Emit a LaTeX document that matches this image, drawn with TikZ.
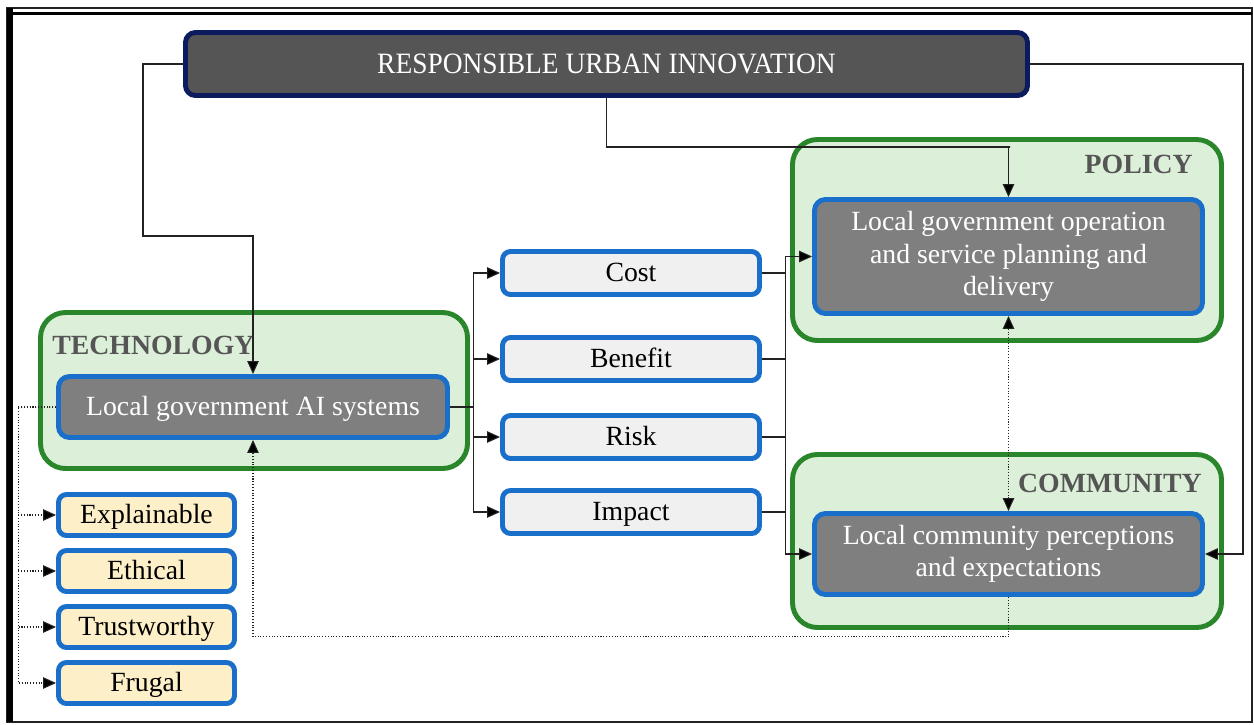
\documentclass[tikz,border=0pt]{standalone}
\usepackage{fontspec}
\usepackage{graphicx}
\setmainfont{Liberation Serif}
\usetikzlibrary{arrows.meta,calc}
\definecolor{grpgreen}{HTML}{2A862A}
\definecolor{grpfill}{HTML}{DCEFD8}
\definecolor{boxblue}{HTML}{1A6FCB}
\definecolor{innergray}{HTML}{7F7F7F}
\definecolor{titlefill}{HTML}{555555}
\definecolor{titleborder}{HTML}{0C1B5E}
\definecolor{lightbox}{HTML}{F0F0F0}
\definecolor{yellowbox}{HTML}{FDF0C9}
\definecolor{labelgray}{HTML}{555555}
\definecolor{linegray}{HTML}{222222}
\tikzset{
  x=0.02cm, y=-0.02cm,
  txt/.style={font=\fontsize{15.8}{18.5}\selectfont},
  oneline/.style={text height=11.4pt, text depth=1.5pt},
  grpbox/.style={draw=grpgreen, fill=grpfill, rounded corners=0.5cm, line width=2.8pt, inner sep=0pt},
  innerbox/.style={draw=boxblue, fill=innergray, line width=2.8pt, rounded corners=0.22cm, text=white, align=center, inner sep=0pt, txt},
  factorbox/.style={draw=boxblue, fill=lightbox, line width=2.8pt, rounded corners=0.16cm, inner sep=0pt, minimum width=257*0.02cm, minimum height=43*0.02cm, oneline, txt},
  qualbox/.style={draw=boxblue, fill=yellowbox, line width=2.8pt, rounded corners=0.16cm, inner sep=0pt, minimum width=176*0.02cm, minimum height=41*0.02cm, oneline, txt},
  grplabel/.style={text=labelgray, font=\fontsize{15.8}{18.5}\selectfont\bfseries, inner sep=0pt},
  tip/.style={-{Triangle[length=0.26cm, width=0.23cm, fill=black]}},
  conn/.style={draw=linegray, line width=0.6pt},
  arr/.style={conn, tip},
  dotconn/.style={draw=linegray, line width=0.6pt, densely dotted},
  dotarr/.style={dotconn, tip},
  dotdarr/.style={dotconn, {Triangle[length=0.26cm, width=0.23cm, fill=black]}-{Triangle[length=0.26cm, width=0.23cm, fill=black]}},
}
\begin{document}
\begin{tikzpicture}
\useasboundingbox (0,0) rectangle (1254,724);
% frame
\draw[line width=0.6pt, draw=linegray] (7,8) rectangle (1252,722);
\draw[line width=2.2pt] (7,13.5) -- (1252,13.5);
\draw[line width=3.4pt] (10,8) -- (10,722);

% title
\node[draw=titleborder, fill=titlefill, line width=2.8pt, rounded corners=0.2cm,
      minimum width=842*0.02cm, minimum height=63*0.02cm, inner sep=0pt,
      text height=12.3pt, text depth=1.5pt,
      text=white, font=\fontsize{16.8}{19}\selectfont] (title) at (606.5,64)
      {\scalebox{0.93}[1]{RESPONSIBLE URBAN INNOVATION}};

% groups
\node[grpbox, minimum width=427*0.02cm, minimum height=156*0.02cm] (tech) at (254,390.5) {};
\node[grpbox, minimum width=429*0.02cm, minimum height=201*0.02cm] (policy) at (1007,240) {};
\node[grpbox, minimum width=429*0.02cm, minimum height=173*0.02cm] (comm) at (1007,541) {};

\node[grplabel, anchor=west] (techlbl) at (52,345) {TECHNOLOGY};
\node[grplabel, anchor=east] (pollbl) at (1193,164) {POLICY};
\node[grplabel, anchor=east] (commlbl) at (1202,483) {COMMUNITY};

% inner boxes
\node[innerbox, text height=10.6pt, text depth=1.5pt, minimum width=389*0.02cm, minimum height=61*0.02cm] (ai) at (253,407) {Local government AI systems};
\node[innerbox, minimum width=388*0.02cm, minimum height=114*0.02cm] (pin) at (1008.5,256.5)
  {Local government operation\\and service planning and\\delivery};
\node[innerbox, minimum width=388*0.02cm, minimum height=81*0.02cm] (cin) at (1008.5,554)
  {Local community perceptions\\and expectations};

% factors
\node[factorbox] (cost) at (631,273) {Cost};
\node[factorbox] (benefit) at (631,359) {Benefit};
\node[factorbox] (risk) at (631,437) {Risk};
\node[factorbox] (impact) at (631,512) {Impact};

% qualities
\node[qualbox] (expl) at (146.5,515) {Explainable};
\node[qualbox] (eth) at (146.5,571) {Ethical};
\node[qualbox] (trust) at (146.5,627) {Trustworthy};
\node[qualbox] (frug) at (146.5,683) {Frugal};

% title connectors
\draw[arr] (title.west) -| (143,236) -| (ai.north);
\draw[arr] (title.south) |- (1010,147) -| (pin.north);
\draw[arr] (title.east) -| ($(cin.east)+(38,0)$) -- (cin.east);

% AI to factors
\foreach \f in {cost,benefit,risk,impact}{
  \draw[arr] (ai.east) -- ++(24,0) |- (\f.west);
}
% factors to policy / community
\draw[arr] (cost.east) -- ++(24,0) |- (pin.west);
\draw[arr] (impact.east) -- ++(24,0) |- (cin.west);
\draw[conn] (benefit.east) -- ++(24,0);
\draw[conn] (risk.east) -- ++(24,0);
\draw[conn] ($(cost.east)+(24,0)$) -- ($(impact.east)+(24,0)$);

% AI to qualities (dotted)
\foreach \q in {expl,eth,trust,frug}{
  \draw[dotarr] (ai.west) -- ++(-38,0) |- (\q.west);
}
% community back to AI (dotted)
\draw[dotarr] (cin.south) -- ++(0,40) -| (ai.south);
% policy <-> community (dotted)
\draw[dotdarr] (pin.south) -- (cin.north);
\end{tikzpicture}
\end{document}
